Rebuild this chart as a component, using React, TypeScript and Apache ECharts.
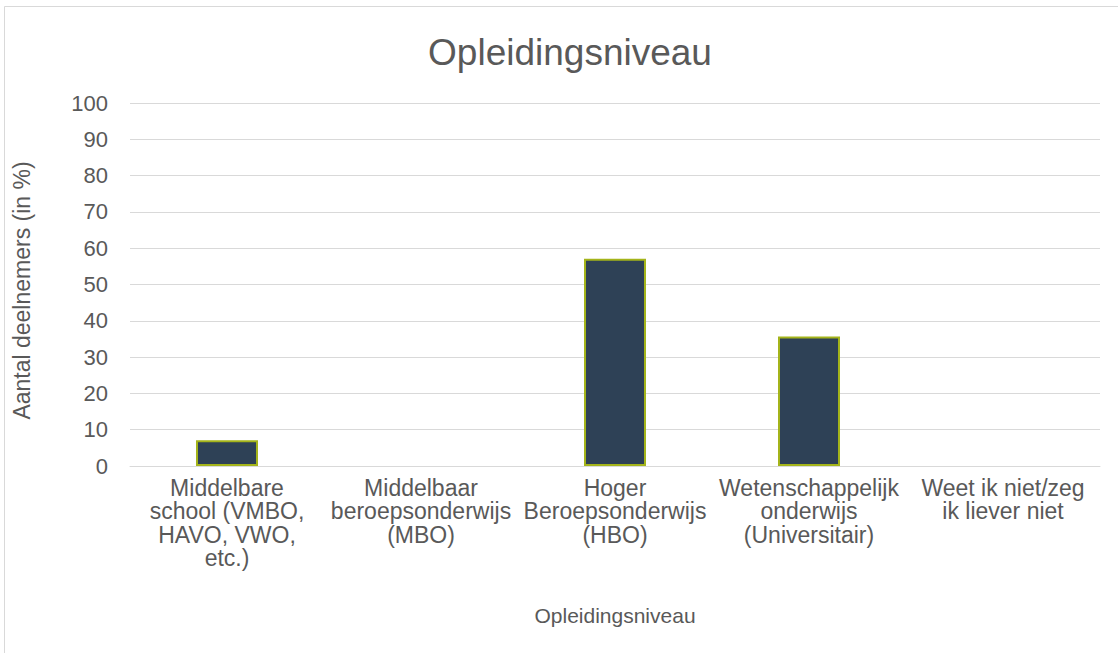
import React, { useEffect, useRef } from "react";
import * as echarts from "echarts";

const categories = [
  "Middelbare\nschool (VMBO,\nHAVO, VWO,\netc.)",
  "Middelbaar\nberoepsonderwijs\n(MBO)",
  "Hoger\nBeroepsonderwijs\n(HBO)",
  "Wetenschappelijk\nonderwijs\n(Universitair)",
  "Weet ik niet/zeg\nik liever niet",
];
const values = [7.1, 0, 57.1, 35.7, 0];
const yTicks = { min: 0, max: 100, interval: 10 };

export default function App() {
  const ref = useRef<HTMLDivElement>(null);
  useEffect(() => {
    document.body.style.margin = "0";
    const chart = echarts.init(ref.current!, null, { renderer: "svg" });
    const font = "Liberation Sans, Arial, sans-serif";
    chart.setOption({
      animation: false,
      backgroundColor: "#ffffff",
      textStyle: { fontFamily: font },
      title: {
        text: "Opleidingsniveau",
        left: 565,
        textAlign: "center",
        top: 29,
        textStyle: { fontSize: 37, fontWeight: "normal", color: "#595959", fontFamily: font },
      },
      graphic: [
        {
          type: "rect",
          shape: { x: 4.5, y: 6.5, width: 1300, height: 800 },
          style: { fill: "none", stroke: "#d9d9d9", lineWidth: 1 },
          silent: true,
        },
      ],
      grid: { left: 130, right: 18, top: 103, bottom: 187, containLabel: false },
      xAxis: {
        type: "category",
        data: categories,
        name: "Opleidingsniveau",
        nameLocation: "middle",
        nameGap: 139,
        nameTextStyle: { fontSize: 21, color: "#595959", fontFamily: font },
        axisLine: { show: true, lineStyle: { color: "#d9d9d9", width: 1 } },
        axisTick: { show: false },
        axisLabel: {
          interval: 0,
          fontSize: 23,
          lineHeight: 23.5,
          color: "#595959",
          margin: 10,
          fontFamily: font,
        },
      },
      yAxis: {
        type: "value",
        min: yTicks.min,
        max: yTicks.max,
        interval: yTicks.interval,
        name: "Aantal deelnemers (in %)",
        nameLocation: "middle",
        nameGap: 97,
        nameRotate: 90,
        nameTextStyle: { fontSize: 23, color: "#595959", fontFamily: font, padding: [0, 12, 0, 0] },
        axisLine: { show: false },
        axisTick: { show: false },
        axisLabel: { fontSize: 22, color: "#595959", margin: 22, fontFamily: font },
        splitLine: { show: true, lineStyle: { color: "#d9d9d9", width: 1 } },
      },
      series: [
        {
          type: "bar",
          data: values.map((v) => ({
            value: v,
            itemStyle: { borderWidth: v === 0 ? 0 : 2 },
          })),
          barWidth: 62,
          itemStyle: { color: "#2e4156", borderColor: "#a4b41a", borderWidth: 2 },
        },
      ],
    });
    return () => chart.dispose();
  }, []);
  return <div ref={ref} style={{ width: 1118, height: 653 }} />;
}
